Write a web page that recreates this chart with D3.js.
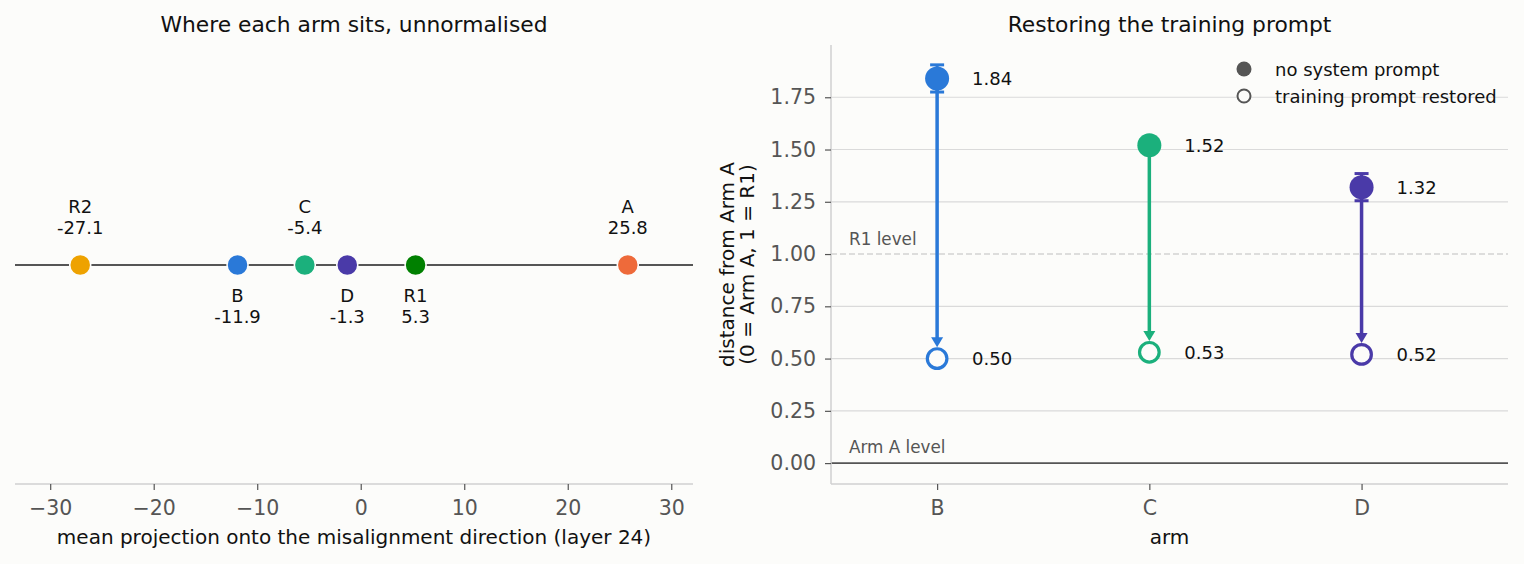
<!DOCTYPE html>
<html>
<head>
<meta charset="utf-8">
<script src="https://cdn.jsdelivr.net/npm/d3@7"></script>
<style>
  body { margin: 0; background: #fcfcfa; }
  svg { display: block; font-family: "DejaVu Sans", sans-serif; }
</style>
</head>
<body>
<svg id="chart" width="1524" height="564"></svg>
<script>
// left panel data
var leftArms = ["R2", "B", "C", "D", "R1", "A"];
var leftValues = [-27.1, -11.9, -5.4, -1.3, 5.3, 25.8];
var leftColors = ["#eea200", "#2a79d8", "#1bb07c", "#4a3aa8", "#008000", "#ee6a3a"];
var leftAbove = [true, false, true, false, false, true];
var leftTicks = [-30, -20, -10, 0, 10, 20, 30];

// right panel data
var rightArms = ["B", "C", "D"];
var rightColors = ["#2a79d8", "#1bb07c", "#4a3aa8"];
var noPrompt = [1.84, 1.52, 1.32];
var noPromptErr = [0.065, 0.02, 0.065];
var restored = [0.50, 0.53, 0.52];
var restoredErr = [0.01, 0.01, 0.01];
var rightTicks = [0, 0.25, 0.5, 0.75, 1.0, 1.25, 1.5, 1.75];

var svg = d3.select("#chart");
svg.append("rect").attr("width", 1524).attr("height", 564).attr("fill", "#fcfcfa");

var spine = "#d0d0d0", ink = "#555";
var fTitle = 21.8, fTick = 20.5, fLabel = 20, fNote = 18, fLevel = 16.8;

// ---------------------------------------------------------- LEFT PANEL
var L = { left: 15, right: 693, top: 45, bottom: 484 };
var xL = d3.scaleLinear().domain([-33.4, 32.1]).range([L.left, L.right]);
var lineY = 265;

var gL = svg.append("g");

gL.append("text")
    .attr("x", (L.left + L.right) / 2).attr("y", 32)
    .attr("text-anchor", "middle").attr("font-size", fTitle).attr("fill", "#111")
    .text("Where each arm sits, unnormalised");

var axL = gL.append("g").attr("transform", "translate(0," + L.bottom + ")")
    .call(d3.axisBottom(xL).tickValues(leftTicks).tickSize(6).tickPadding(10).tickFormat(d3.format("d")));
axL.select(".domain").attr("stroke", spine).attr("stroke-width", 1.5).attr("d", "M" + L.left + ",0H" + L.right);
axL.selectAll(".tick line").attr("stroke", ink).attr("stroke-width", 1.2);
axL.selectAll(".tick text").attr("fill", ink).attr("font-size", fTick).attr("font-family", "DejaVu Sans");

gL.append("text")
    .attr("x", (L.left + L.right) / 2).attr("y", 544)
    .attr("text-anchor", "middle").attr("font-size", fLabel).attr("fill", "#111")
    .text("mean projection onto the misalignment direction (layer 24)");

gL.append("line")
    .attr("x1", L.left).attr("x2", L.right).attr("y1", lineY).attr("y2", lineY)
    .attr("stroke", ink).attr("stroke-width", 2);

gL.selectAll("circle.arm")
    .data(leftValues)
    .enter().append("circle")
    .attr("class", "arm")
    .attr("cx", function (d) { return xL(d); })
    .attr("cy", lineY)
    .attr("r", 10.5)
    .attr("fill", function (d, i) { return leftColors[i]; })
    .attr("stroke", "#fcfcfa").attr("stroke-width", 1.5);

leftValues.forEach(function (v, i) {
    var y0 = leftAbove[i] ? 212.5 : 301.5;
    var t = gL.append("text")
        .attr("x", xL(v)).attr("y", y0)
        .attr("text-anchor", "middle").attr("font-size", fNote).attr("fill", "#111");
    t.append("tspan").attr("x", xL(v)).attr("dy", 0).text(leftArms[i]);
    t.append("tspan").attr("x", xL(v)).attr("dy", 21).text(v.toFixed(1));
});

// ---------------------------------------------------------- RIGHT PANEL
var R = { left: 831, right: 1508, top: 45, bottom: 484 };
var xR = d3.scaleLinear().domain([-0.5, 2.69]).range([R.left, R.right]);
var yR = d3.scaleLinear().domain([-0.1, 2.0]).range([R.bottom, R.top]);

var gR = svg.append("g");

gR.append("text")
    .attr("x", (R.left + R.right) / 2).attr("y", 32)
    .attr("text-anchor", "middle").attr("font-size", fTitle).attr("fill", "#111")
    .text("Restoring the training prompt");

// grid
gR.selectAll("line.grid")
    .data(rightTicks.filter(function (d) { return d !== 0 && d !== 1; }))
    .enter().append("line")
    .attr("class", "grid")
    .attr("x1", R.left).attr("x2", R.right)
    .attr("y1", function (d) { return yR(d); }).attr("y2", function (d) { return yR(d); })
    .attr("stroke", "#dadada").attr("stroke-width", 1.2);

// reference levels
gR.append("line")
    .attr("x1", R.left).attr("x2", R.right).attr("y1", yR(1)).attr("y2", yR(1))
    .attr("stroke", "#d2d2d2").attr("stroke-width", 1.5).attr("stroke-dasharray", "6,3");
gR.append("line")
    .attr("x1", R.left).attr("x2", R.right).attr("y1", yR(0)).attr("y2", yR(0))
    .attr("stroke", ink).attr("stroke-width", 1.8);
gR.append("text").attr("x", 849).attr("y", yR(1) - 9)
    .attr("font-size", fLevel).attr("fill", ink).text("R1 level");
gR.append("text").attr("x", 849).attr("y", yR(0) - 10)
    .attr("font-size", fLevel).attr("fill", ink).text("Arm A level");

// axes
var axY = gR.append("g").attr("transform", "translate(" + R.left + ",0)")
    .call(d3.axisLeft(yR).tickValues(rightTicks).tickSize(6).tickPadding(9).tickFormat(d3.format(".2f")));
axY.select(".domain").attr("stroke", spine).attr("stroke-width", 1.5).attr("d", "M0," + R.top + "V" + R.bottom);
axY.selectAll(".tick line").attr("stroke", ink).attr("stroke-width", 1.2);
axY.selectAll(".tick text").attr("fill", ink).attr("font-size", fTick).attr("font-family", "DejaVu Sans");

var axX = gR.append("g").attr("transform", "translate(0," + R.bottom + ")")
    .call(d3.axisBottom(xR).tickValues([0, 1, 2]).tickSize(6).tickPadding(10)
        .tickFormat(function (d) { return rightArms[d]; }));
axX.select(".domain").attr("stroke", spine).attr("stroke-width", 1.5).attr("d", "M" + R.left + ",0H" + R.right);
axX.selectAll(".tick line").attr("stroke", ink).attr("stroke-width", 1.2);
axX.selectAll(".tick text").attr("fill", ink).attr("font-size", fTick).attr("font-family", "DejaVu Sans");

gR.append("text")
    .attr("x", (R.left + R.right) / 2).attr("y", 544)
    .attr("text-anchor", "middle").attr("font-size", fLabel).attr("fill", "#111")
    .text("arm");

var yl = gR.append("text")
    .attr("transform", "translate(734," + ((R.top + R.bottom) / 2) + ") rotate(-90)")
    .attr("text-anchor", "middle").attr("font-size", fLabel).attr("fill", "#111");
yl.append("tspan").attr("x", 0).attr("dy", 0).text("distance from Arm A");
yl.append("tspan").attr("x", 0).attr("dy", 20).text("(0 = Arm A, 1 = R1)");

// arms
var rHollow = 9.8, headLen = 10, headW = 6;
rightArms.forEach(function (a, i) {
    var cx = xR(i), c = rightColors[i];
    var yTop = yR(noPrompt[i]), yBot = yR(restored[i]);
    var tip = yBot - rHollow - 1.5;

    // arrow shaft + head
    gR.append("line")
        .attr("x1", cx).attr("x2", cx).attr("y1", yTop).attr("y2", tip - headLen + 1)
        .attr("stroke", c).attr("stroke-width", 3.5);
    gR.append("path")
        .attr("d", "M" + (cx - headW) + "," + (tip - headLen) + "L" + (cx + headW) + "," + (tip - headLen) + "L" + cx + "," + tip + "Z")
        .attr("fill", c);

    // error bars
    [[noPrompt[i], noPromptErr[i]], [restored[i], restoredErr[i]]].forEach(function (p) {
        var y1 = yR(p[0] + p[1]), y2 = yR(p[0] - p[1]);
        gR.append("line").attr("x1", cx).attr("x2", cx).attr("y1", y1).attr("y2", y2)
            .attr("stroke", c).attr("stroke-width", 3);
        [y1, y2].forEach(function (yy) {
            gR.append("line").attr("x1", cx - 7).attr("x2", cx + 7).attr("y1", yy).attr("y2", yy)
                .attr("stroke", c).attr("stroke-width", 3);
        });
    });

    gR.append("circle").attr("cx", cx).attr("cy", yTop).attr("r", 12).attr("fill", c);
    gR.append("circle").attr("cx", cx).attr("cy", yBot).attr("r", rHollow)
        .attr("fill", "#fcfcfa").attr("stroke", c).attr("stroke-width", 3.2);

    gR.append("text").attr("x", cx + 35).attr("y", yTop + 6.5)
        .attr("font-size", fNote).attr("fill", "#111").text(noPrompt[i].toFixed(2));
    gR.append("text").attr("x", cx + 35).attr("y", yBot + 6.5)
        .attr("font-size", fNote).attr("fill", "#111").text(restored[i].toFixed(2));
});

// legend
var legend = gR.append("g").attr("transform", "translate(1244,69)");
legend.append("circle").attr("cx", 0).attr("cy", 0).attr("r", 7.5).attr("fill", ink);
legend.append("text").attr("x", 31).attr("y", 6.5).attr("font-size", fNote).attr("fill", "#111").text("no system prompt");
legend.append("circle").attr("cx", 0).attr("cy", 27).attr("r", 6.5)
    .attr("fill", "#fcfcfa").attr("stroke", ink).attr("stroke-width", 2);
legend.append("text").attr("x", 31).attr("y", 33.5).attr("font-size", fNote).attr("fill", "#111").text("training prompt restored");
</script>
</body>
</html>
